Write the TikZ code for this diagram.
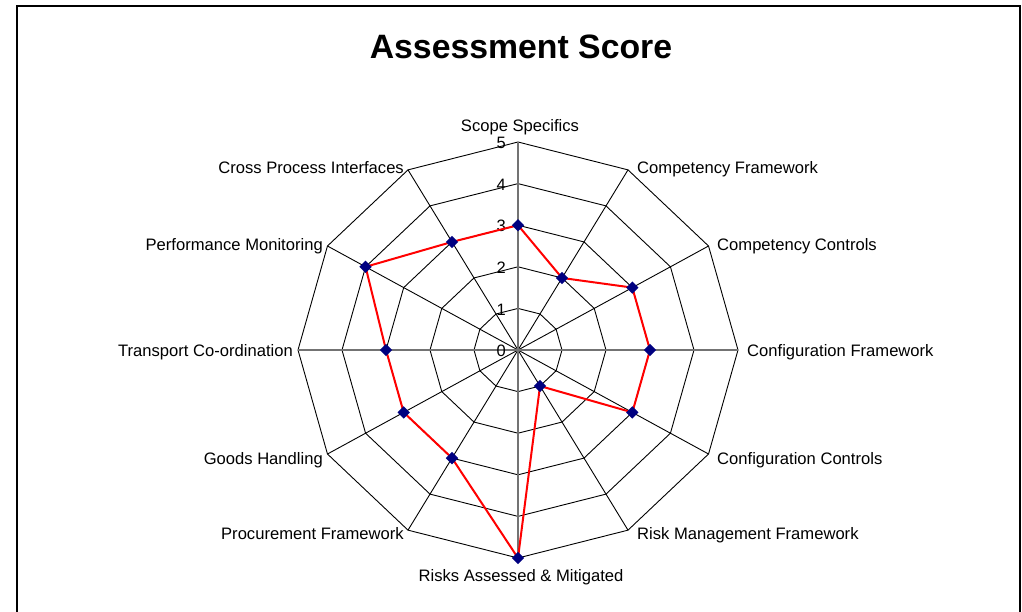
\documentclass[tikz,border=0pt]{standalone}
\usepackage{fontspec}
\setmainfont{Liberation Sans}
\usetikzlibrary{shapes.geometric}
\definecolor{navy}{RGB}{0,0,128}
\begin{document}
\begin{tikzpicture}[x=1pt,y=-1pt,
  lbl/.style={font=\fontsize{16.6}{19}\selectfont, inner sep=0pt},
  tick/.style={font=\fontsize{16.5}{19}\selectfont, inner sep=0pt, anchor=east},
  grid/.style={black, line width=0.9pt},
  mainaxis/.style={black!55, line width=1.4pt},
  series/.style={red, line width=2pt},
  mk/.style={diamond, fill=navy, inner sep=0pt, minimum width=12.5pt, minimum height=12.5pt}]
\useasboundingbox (0,0) rectangle (1022,611);
\draw[line width=1.3pt] (17,625) -- (17,6) -- (1020,6) -- (1020,625);
\node[font=\bfseries\fontsize{33.8}{40}\selectfont, inner sep=0pt] (title) at (521,47) {Assessment Score};
\coordinate (C) at (518,350);
% rings
\foreach \r in {1,...,5}
  \draw[grid] plot[samples at={0,30,...,330}] ({518+44*\r*sin(\x)},{350-41.6*\r*cos(\x)}) -- cycle;
% spokes
\foreach \a in {30,60,120,150,210,240,300,330}
  \draw[grid] (C) -- ({518+220*sin(\a)},{350-208*cos(\a)});
\draw[mainaxis] (518,142) -- (518,558);
\draw[mainaxis] (298,350) -- (738,350);
% tick labels
\foreach \t in {0,...,5}
  \node[tick] (t\t) at (506,{350-41.6*\t+1}) {\t};
% data
\foreach \v [count=\i from 0] in {3,2,3,3,3,1,5,3,3,3,4,3}
  \coordinate (d\i) at ({518+44*\v*sin(30*\i)},{350-41.6*\v*cos(30*\i)});
\draw[series, line join=round] (d0) -- (d1) -- (d2) -- (d3) -- (d4) -- (d5) -- (d6) -- (d7) -- (d8) -- (d9) -- (d10) -- (d11) -- cycle;
\foreach \i in {0,...,11} \node[mk] (m\i) at (d\i) {};
% axis labels
\node[lbl, anchor=base] (l0) at (520,131) {Scope Specifics};
\node[lbl, anchor=base west] (l1) at (637,173) {Competency Framework};
\node[lbl, anchor=base west] (l2) at (717,250) {Competency Controls};
\node[lbl, anchor=base west] (l3) at (747,356) {Configuration Framework};
\node[lbl, anchor=base west] (l4) at (717,464) {Configuration Controls};
\node[lbl, anchor=base west] (l5) at (637,539) {Risk Management Framework};
\node[lbl, anchor=base] (l6) at (521,581) {Risks Assessed \& Mitigated};
\node[lbl, anchor=base east] (l7) at (404,539) {Procurement Framework};
\node[lbl, anchor=base east] (l8) at (323,464) {Goods Handling};
\node[lbl, anchor=base east] (l9) at (293,356) {Transport Co-ordination};
\node[lbl, anchor=base east] (l10) at (323,250) {Performance Monitoring};
\node[lbl, anchor=base east] (l11) at (404,173) {Cross Process Interfaces};
\end{tikzpicture}
\end{document}
